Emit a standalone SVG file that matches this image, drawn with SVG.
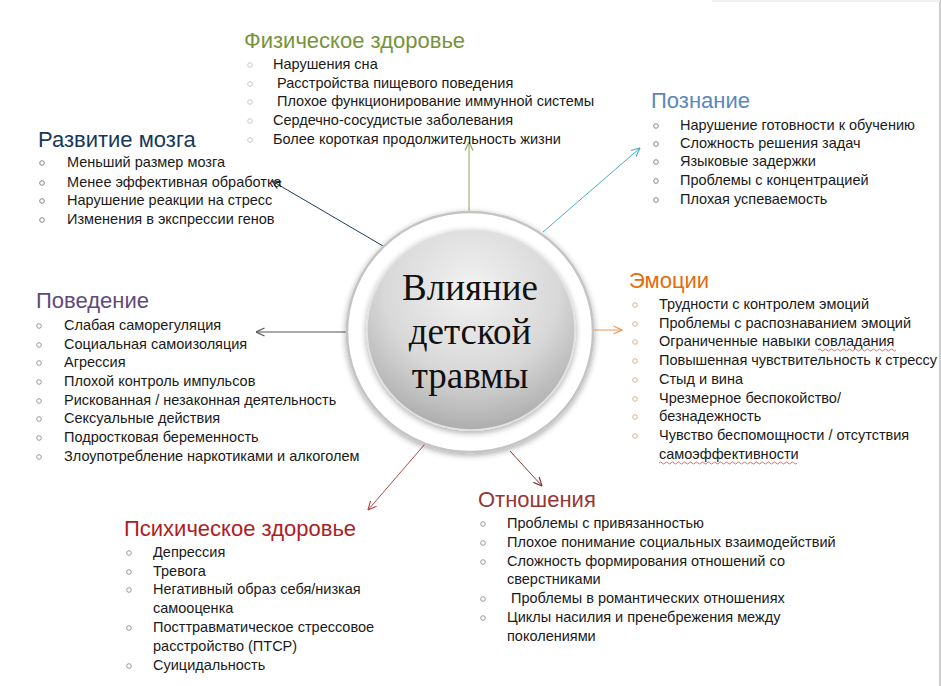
<svg xmlns="http://www.w3.org/2000/svg" width="941" height="686" viewBox="0 0 941 686">
<style>
.h{font-family:"Liberation Sans",Arial,sans-serif;font-size:22px}
.t{font-family:"Liberation Sans",Arial,sans-serif;font-size:14.5px;fill:#1a1a1a}
.c{font-family:"Liberation Serif","Times New Roman",serif;font-size:37px;fill:#111;text-anchor:middle}
.b{fill:none;stroke-width:1}
.w{fill:none;stroke:#e04848;stroke-width:0.8}
</style>
<defs>
<radialGradient id="g" cx="0.5" cy="0.3" r="0.7">
<stop offset="0" stop-color="#f2f2f2"/>
<stop offset="0.6" stop-color="#d8d8d8"/>
<stop offset="1" stop-color="#adadad"/>
</radialGradient>
<filter id="sh" x="-20%" y="-20%" width="140%" height="140%">
<feGaussianBlur in="SourceAlpha" stdDeviation="3"/>
<feOffset dx="0" dy="2"/>
<feComponentTransfer><feFuncA type="linear" slope="0.35"/></feComponentTransfer>
<feMerge><feMergeNode/><feMergeNode in="SourceGraphic"/></feMerge>
</filter>
<marker id="mG" viewBox="0 0 10 10" refX="9.5" refY="5" markerWidth="10" markerHeight="10" markerUnits="userSpaceOnUse" orient="auto"><path d="M1,1 L9.5,5 L1,9" fill="none" stroke="#8ea65a" stroke-width="1.2"/></marker>
<marker id="mN" viewBox="0 0 10 10" refX="9.5" refY="5" markerWidth="10" markerHeight="10" markerUnits="userSpaceOnUse" orient="auto"><path d="M1,1 L9.5,5 L1,9" fill="none" stroke="#1f3a5f" stroke-width="1.2"/></marker>
<marker id="mC" viewBox="0 0 10 10" refX="9.5" refY="5" markerWidth="10" markerHeight="10" markerUnits="userSpaceOnUse" orient="auto"><path d="M1,1 L9.5,5 L1,9" fill="none" stroke="#4bacc6" stroke-width="1.2"/></marker>
<marker id="mO" viewBox="0 0 10 10" refX="9.5" refY="5" markerWidth="10" markerHeight="10" markerUnits="userSpaceOnUse" orient="auto"><path d="M1,1 L9.5,5 L1,9" fill="none" stroke="#e59a5c" stroke-width="1.2"/></marker>
<marker id="mK" viewBox="0 0 10 10" refX="9.5" refY="5" markerWidth="10" markerHeight="10" markerUnits="userSpaceOnUse" orient="auto"><path d="M1,1 L9.5,5 L1,9" fill="none" stroke="#555" stroke-width="1.2"/></marker>
<marker id="mR" viewBox="0 0 10 10" refX="9.5" refY="5" markerWidth="10" markerHeight="10" markerUnits="userSpaceOnUse" orient="auto"><path d="M1,1 L9.5,5 L1,9" fill="none" stroke="#b8474a" stroke-width="1.2"/></marker>
<marker id="mD" viewBox="0 0 10 10" refX="9.5" refY="5" markerWidth="10" markerHeight="10" markerUnits="userSpaceOnUse" orient="auto"><path d="M1,1 L9.5,5 L1,9" fill="none" stroke="#8b3a3a" stroke-width="1.2"/></marker>
</defs>
<rect width="941" height="686" fill="#fff"/>
<line x1="940" y1="0" x2="940" y2="686" stroke="#9a9a9a" stroke-width="1"/>
<line x1="712" y1="1" x2="940" y2="1" stroke="#f0f0f0" stroke-width="2"/>

<g id="connectors" fill="none" stroke-width="1">
<line x1="469" y1="212" x2="469" y2="142" stroke="#8ea65a" marker-end="url(#mG)"/>
<line x1="383" y1="246" x2="272" y2="181" stroke="#1f3a5f" marker-end="url(#mN)"/>
<line x1="543" y1="232" x2="640" y2="148" stroke="#4bacc6" marker-end="url(#mC)"/>
<line x1="594" y1="330" x2="622" y2="330" stroke="#e59a5c" marker-end="url(#mO)"/>
<line x1="348" y1="332" x2="256" y2="332" stroke="#555" marker-end="url(#mK)"/>
<line x1="425" y1="444" x2="368" y2="510" stroke="#b8474a" marker-end="url(#mR)"/>
<line x1="510" y1="451" x2="542" y2="486" stroke="#8b3a3a" marker-end="url(#mD)"/>
</g>

<g id="center">
<ellipse cx="470" cy="332" rx="123" ry="120" fill="#fff" stroke="#c4c4c4" stroke-width="2.5" filter="url(#sh)"/>
<ellipse cx="471" cy="330" rx="104" ry="100" fill="url(#g)" stroke="#e2e2e2" stroke-width="1.5" filter="url(#sh)"/>
<text class="c" x="470" y="300">Влияние</text>
<text class="c" x="470" y="344">детской</text>
<text class="c" x="470" y="388">травмы</text>
</g>

<g id="physical">
<text class="h" x="244" y="48" fill="#77933c">Физическое здоровье</text>
<g class="b" stroke="#c8c8c8"><circle cx="250" cy="65" r="2.3"/><circle cx="250" cy="84" r="2.3"/><circle cx="250" cy="102" r="2.3"/><circle cx="250" cy="121" r="2.3"/><circle cx="250" cy="140" r="2.3"/></g>
<text class="t" x="273" y="69">Нарушения сна</text>
<text class="t" x="277" y="88">Расстройства пищевого поведения</text>
<text class="t" x="277" y="106">Плохое функционирование иммунной системы</text>
<text class="t" x="273" y="125">Сердечно-сосудистые заболевания</text>
<text class="t" x="273" y="144">Более короткая продолжительность жизни</text>
</g>

<g id="brain">
<text class="h" x="38" y="147" fill="#17375e">Развитие мозга</text>
<g class="b" stroke="#888"><circle cx="42" cy="163" r="2.3"/><circle cx="42" cy="183" r="2.3"/><circle cx="42" cy="201" r="2.3"/><circle cx="42" cy="220" r="2.3"/></g>
<text class="t" x="67" y="167">Меньший размер мозга</text>
<text class="t" x="67" y="187">Менее эффективная обработка</text>
<text class="t" x="67" y="205">Нарушение реакции на стресс</text>
<text class="t" x="67" y="224">Изменения в экспрессии генов</text>
</g>

<g id="cognition">
<text class="h" x="651" y="108" fill="#5b87bd">Познание</text>
<g class="b" stroke="#888"><circle cx="656" cy="126" r="2.3"/><circle cx="656" cy="144" r="2.3"/><circle cx="656" cy="162" r="2.3"/><circle cx="656" cy="181" r="2.3"/><circle cx="656" cy="200" r="2.3"/></g>
<text class="t" x="680" y="130">Нарушение готовности к обучению</text>
<text class="t" x="680" y="148">Сложность решения задач</text>
<text class="t" x="680" y="166">Языковые задержки</text>
<text class="t" x="680" y="185">Проблемы с концентрацией</text>
<text class="t" x="680" y="204">Плохая успеваемость</text>
</g>

<g id="emotions">
<text class="h" x="629" y="288" fill="#e46c0a">Эмоции</text>
<g class="b" stroke="#d9b48a"><circle cx="635" cy="305" r="2.3"/><circle cx="635" cy="324" r="2.3"/><circle cx="635" cy="342" r="2.3"/><circle cx="635" cy="361" r="2.3"/><circle cx="635" cy="380" r="2.3"/><circle cx="635" cy="399" r="2.3"/><circle cx="635" cy="417" r="2.3"/><circle cx="635" cy="436" r="2.3"/></g>
<text class="t" x="659" y="309">Трудности с контролем эмоций</text>
<text class="t" x="659" y="328">Проблемы с распознаванием эмоций</text>
<text class="t" x="659" y="346">Ограниченные навыки совладания</text>
<text class="t" x="659" y="365">Повышенная чувствительность к стрессу</text>
<text class="t" x="659" y="384">Стыд и вина</text>
<text class="t" x="659" y="403">Чрезмерное беспокойство/</text>
<text class="t" x="659" y="421">безнадежность</text>
<text class="t" x="659" y="440">Чувство беспомощности / отсутствия</text>
<text class="t" x="659" y="459">самоэффективности</text>
<path class="w" d="M818,350 q1.5,-2 3,0 t3,0 t3,0 t3,0 t3,0 t3,0 t3,0 t3,0 t3,0 t3,0 t3,0 t3,0 t3,0 t3,0 t3,0 t3,0 t3,0 t3,0 t3,0 t3,0 t3,0 t3,0 t3,0 t3,0 t3,0 t3,0"/>
<path class="w" d="M659,463 q1.5,-2 3,0 t3,0 t3,0 t3,0 t3,0 t3,0 t3,0 t3,0 t3,0 t3,0 t3,0 t3,0 t3,0 t3,0 t3,0 t3,0 t3,0 t3,0 t3,0 t3,0 t3,0 t3,0 t3,0 t3,0 t3,0 t3,0 t3,0 t3,0 t3,0 t3,0 t3,0 t3,0 t3,0 t3,0 t3,0 t3,0 t3,0 t3,0 t3,0 t3,0 t3,0 t3,0 t3,0 t3,0 t3,0 t3,0"/>
</g>

<g id="behavior">
<text class="h" x="36" y="308" fill="#604a7b">Поведение</text>
<g class="b" stroke="#999"><circle cx="39" cy="326" r="2.3"/><circle cx="39" cy="345" r="2.3"/><circle cx="39" cy="363" r="2.3"/><circle cx="39" cy="382" r="2.3"/><circle cx="39" cy="401" r="2.3"/><circle cx="39" cy="419" r="2.3"/><circle cx="39" cy="438" r="2.3"/><circle cx="39" cy="457" r="2.3"/></g>
<text class="t" x="64" y="330">Слабая саморегуляция</text>
<text class="t" x="64" y="349">Социальная самоизоляция</text>
<text class="t" x="64" y="367">Агрессия</text>
<text class="t" x="64" y="386">Плохой контроль импульсов</text>
<text class="t" x="64" y="405">Рискованная / незаконная деятельность</text>
<text class="t" x="64" y="423">Сексуальные действия</text>
<text class="t" x="64" y="442">Подростковая беременность</text>
<text class="t" x="64" y="461">Злоупотребление наркотиками и алкоголем</text>
</g>

<g id="mental">
<text class="h" x="124" y="536" fill="#b01c22">Психическое здоровье</text>
<g class="b" stroke="#999"><circle cx="129" cy="553" r="2.3"/><circle cx="129" cy="572" r="2.3"/><circle cx="129" cy="590" r="2.3"/><circle cx="129" cy="628" r="2.3"/><circle cx="129" cy="666" r="2.3"/></g>
<text class="t" x="153" y="557">Депрессия</text>
<text class="t" x="153" y="576">Тревога</text>
<text class="t" x="153" y="594">Негативный образ себя/низкая</text>
<text class="t" x="153" y="613">самооценка</text>
<text class="t" x="153" y="632">Посттравматическое стрессовое</text>
<text class="t" x="153" y="651">расстройство (ПТСР)</text>
<text class="t" x="153" y="670">Суицидальность</text>
</g>

<g id="relations">
<text class="h" x="478" y="507" fill="#953735">Отношения</text>
<g class="b" stroke="#999"><circle cx="483" cy="524" r="2.3"/><circle cx="483" cy="543" r="2.3"/><circle cx="483" cy="562" r="2.3"/><circle cx="483" cy="599" r="2.3"/><circle cx="483" cy="618" r="2.3"/></g>
<text class="t" x="507" y="528">Проблемы с привязанностью</text>
<text class="t" x="507" y="547">Плохое понимание социальных взаимодействий</text>
<text class="t" x="507" y="566">Сложность формирования отношений со</text>
<text class="t" x="507" y="584">сверстниками</text>
<text class="t" x="511" y="603">Проблемы в романтических отношениях</text>
<text class="t" x="507" y="622">Циклы насилия и пренебрежения между</text>
<text class="t" x="507" y="641">поколениями</text>
</g>
</svg>
